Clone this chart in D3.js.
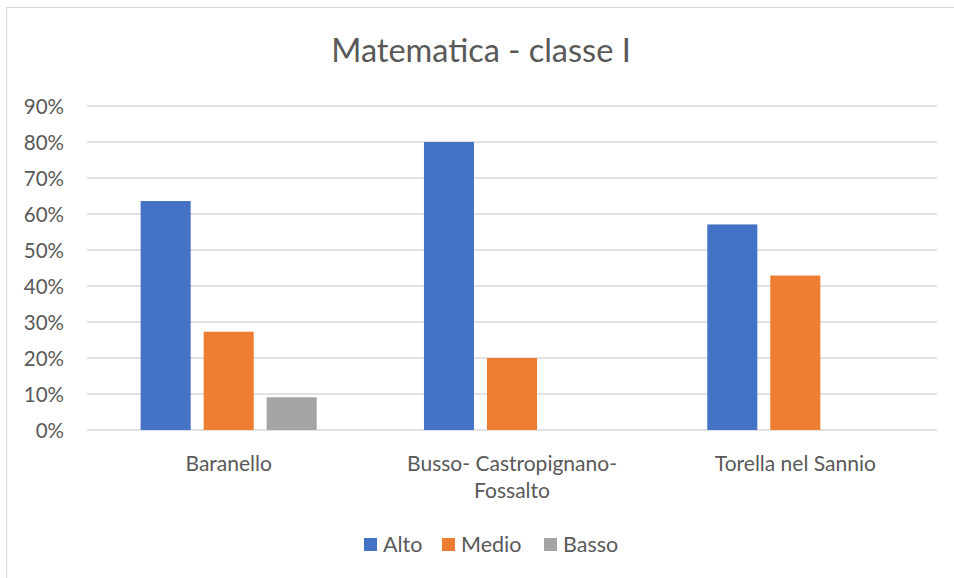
<!DOCTYPE html>
<html>
<head>
<meta charset="utf-8">
<script src="https://cdn.jsdelivr.net/npm/d3@7"></script>
<style>
  body { margin: 0; background: #fff; }
  text { font-family: Lato, "Open Sans", sans-serif; fill: #595959; }
</style>
</head>
<body>
<div id="chart"></div>
<script>
// data
var categories = ["Baranello", "Busso- Castropignano-\nFossalto", "Torella nel Sannio"];
var series = ["Alto", "Medio", "Basso"];
var alto = [0.636, 0.80, 0.571];
var medio = [0.273, 0.20, 0.429];
var basso = [0.091, 0, 0];
var yTicks = [0, 0.1, 0.2, 0.3, 0.4, 0.5, 0.6, 0.7, 0.8, 0.9];
var colors = ["#4472C4", "#ED7D31", "#A5A5A5"];

var values = [alto, medio, basso];

// –––––– svg setup ––––––
var svgWidth = 954, svgHeight = 578;
var margin = { top: 106, left: 87, right: 17, bottom: 148 };
var width = svgWidth - margin.left - margin.right;
var height = svgHeight - margin.top - margin.bottom;

var svg = d3.select("#chart").append("svg")
  .attr("width", svgWidth)
  .attr("height", svgHeight);

// chart border (runs off right/bottom edge in the reference)
svg.append("rect")
  .attr("x", 6.5).attr("y", 7.5)
  .attr("width", 1000).attr("height", 1000)
  .attr("fill", "none")
  .attr("stroke", "#d9d9d9");

svg.append("text")
  .attr("x", 481).attr("y", 62)
  .attr("text-anchor", "middle")
  .style("font-size", "32.5px")
  .text("Matematica - classe I");

var g = svg.append("g").attr("transform", `translate(${margin.left}, ${margin.top})`);

var x0 = d3.scaleBand().domain(categories).range([0, width]);
var x1 = d3.scaleBand().domain(series).range([0, x0.bandwidth()])
  .paddingInner(0.206).paddingOuter(0.851);
var y = d3.scaleLinear().domain([0, 0.9]).range([height, 0]);

// gridlines
g.selectAll(".grid").data(yTicks).enter().append("line")
  .attr("x1", 0).attr("x2", width)
  .attr("y1", d => y(d)).attr("y2", d => y(d))
  .attr("stroke", "#d9d9d9").attr("stroke-width", 1.3);

// y labels
var leftAxis = d3.axisLeft(y).tickValues(yTicks).tickFormat(d3.format(".0%")).tickSize(0).tickPadding(23);
var ya = g.append("g").call(leftAxis);
ya.select(".domain").remove();
ya.selectAll("text").style("font-size", "20.5px").attr("fill", "#595959").attr("dy", "0.35em")
  .style("font-family", "Lato, 'Open Sans', sans-serif");

// bars
var groups = g.selectAll(".cat").data(categories).enter().append("g")
  .attr("transform", d => `translate(${x0(d)}, 0)`);
groups.selectAll("rect")
  .data((c, ci) => series.map((s, si) => ({ s: s, si: si, v: values[si][ci] })))
  .enter().append("rect")
  .attr("x", d => x1(d.s))
  .attr("width", x1.bandwidth())
  .attr("y", d => y(d.v))
  .attr("height", d => height - y(d.v))
  .attr("fill", d => colors[d.si]);

// category labels
categories.forEach(c => {
  var t = g.append("text")
    .attr("text-anchor", "middle")
    .attr("transform", `translate(${x0(c) + x0.bandwidth() / 2}, ${height + 41})`)
    .style("font-size", "21px");
  c.split("\n").forEach((line, i) => {
    t.append("tspan").attr("x", 0).attr("y", i * 27).text(line);
  });
});

// legend
var legendX = [364, 442, 544];
var legend = svg.selectAll(".legend").data(series).enter().append("g")
  .attr("transform", (d, i) => `translate(${legendX[i]}, 538)`);
legend.append("rect").attr("width", 13).attr("height", 13)
  .attr("fill", (d, i) => colors[i]);
legend.append("text").attr("x", 19).attr("y", 14)
  .style("font-size", "21.5px")
  .text(d => d);
</script>
</body>
</html>
